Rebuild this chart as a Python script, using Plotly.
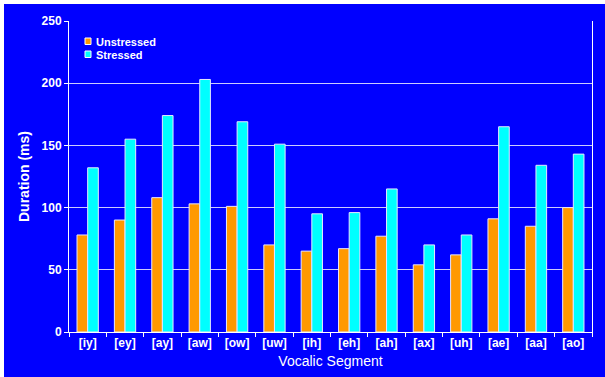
import plotly.graph_objects as go

# Mean vowel durations (ms) by vocalic segment
segments = ["[iy]", "[ey]", "[ay]", "[aw]", "[ow]", "[uw]", "[ih]",
            "[eh]", "[ah]", "[ax]", "[uh]", "[ae]", "[aa]", "[ao]"]
unstressed = [78, 90, 108, 103, 101, 70, 65, 67, 77, 54, 62, 91, 85, 100]
stressed = [132, 155, 174, 203, 169, 151, 95, 96, 115, 70, 78, 165, 134, 143]
y_ticks = [0, 50, 100, 150, 200, 250]
series_names = ["Unstressed", "Stressed"]

ORANGE = "#FF9900"
CYAN = "#00FFFF"
BLUE = "#0000FF"
FONT = "Liberation Sans, Arial, sans-serif"
EDGE = "#E6E6FF"

fig = go.Figure()
fig.add_trace(go.Bar(x=segments, y=unstressed, name=series_names[0],
                     marker=dict(color=ORANGE, line=dict(color=EDGE, width=1)),
                     showlegend=False))
fig.add_trace(go.Bar(x=segments, y=stressed, name=series_names[1],
                     marker=dict(color=CYAN, line=dict(color=EDGE, width=1)),
                     showlegend=False))

L, R, T, B = 69, 13, 21, 45
W, H = 605, 377
pw, ph = W - L - R, H - T - B


def px(x):
    return (x - L) / pw


def py(y):
    return (H - B - y) / ph


# blue card behind the chart, inset from the top/left page edge
fig.add_shape(type="rect", xref="paper", yref="paper", layer="below",
              x0=px(4), x1=px(W + 2), y0=py(H + 2), y1=py(4),
              fillcolor=BLUE, line=dict(width=0))

# compact legend: small square keys with labels
for i, (name, col) in enumerate(zip(series_names, [ORANGE, CYAN])):
    top = 38 + 13 * i
    fig.add_shape(type="rect", xref="paper", yref="paper",
                  x0=px(85), x1=px(91), y0=py(top + 6.5), y1=py(top),
                  fillcolor=col, line=dict(color="white", width=1))
    fig.add_annotation(xref="paper", yref="paper", x=px(94), y=py(top + 3.5),
                       xanchor="left", yanchor="middle", showarrow=False,
                       text=name, font=dict(size=11, weight="bold", color="white"))

fig.update_layout(
    width=W, height=H,
    margin=dict(l=L, r=R, t=T, b=B, pad=0),
    paper_bgcolor="white",
    plot_bgcolor=BLUE,
    barmode="group",
    bargap=0.43,
    bargroupgap=0,
    showlegend=False,
    font=dict(family=FONT, color="white"),
    xaxis=dict(
        title=dict(text="Vocalic Segment", font=dict(size=14), standoff=6),
        tickfont=dict(size=12, weight="bold"),
        showline=True, linecolor="white", linewidth=1,
        ticks="outside", tickson="boundaries", ticklen=4, tickcolor="white",
        showgrid=False,
    ),
    yaxis=dict(
        title=dict(text="Duration (ms)", font=dict(size=14, weight="bold"),
                   standoff=8),
        range=[0, 250], tickvals=y_ticks,
        tickfont=dict(size=12, weight="bold"),
        showline=True, linecolor="white", linewidth=1, mirror=True,
        ticks="outside", ticklen=4, tickcolor="white",
        showgrid=True, gridcolor="rgba(225,225,255,0.9)", gridwidth=1,
        zeroline=False,
    ),
)

fig.write_html("out.html")
